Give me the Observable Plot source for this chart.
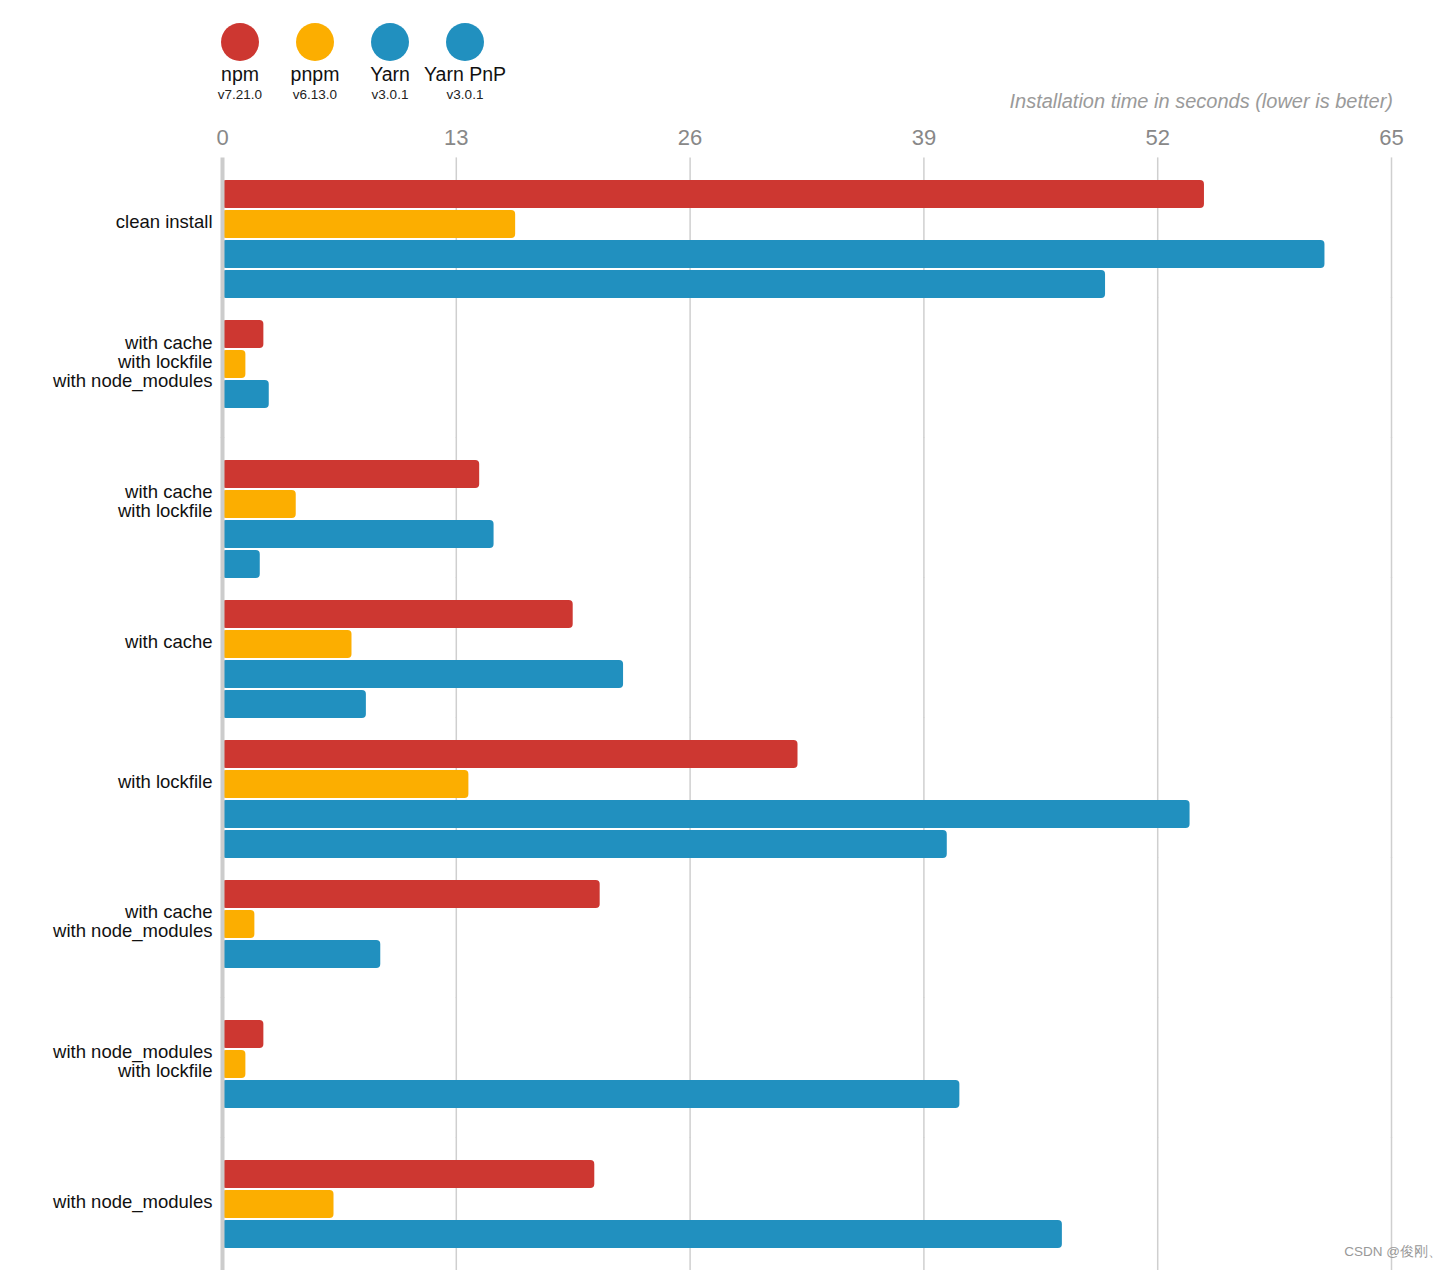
<!DOCTYPE html>
<html>
<head>
<meta charset="utf-8">
<script src="https://cdn.jsdelivr.net/npm/d3@7"></script>
<script src="https://cdn.jsdelivr.net/npm/@observablehq/plot@0.6"></script>
<style>
  html, body { margin: 0; padding: 0; background: #fff; overflow: hidden; }
  #wrap { position: relative; width: 1456px; height: 1270px; overflow: hidden; font-family: "Helvetica Neue", Helvetica, Arial, "Liberation Sans", sans-serif; }
  #legend { position: absolute; left: 0; top: 0; }
  .item { position: absolute; top: 23px; width: 100px; margin-left: -50px; text-align: center; color: #111; }
  .dot { width: 38px; height: 38px; border-radius: 50%; margin: 0 auto; }
  .name { font-size: 19.5px; line-height: 22px; margin-top: 2px; }
  .ver { font-size: 13.5px; line-height: 16px; color: #222; margin-top: 2px; }
  #title { position: absolute; right: 63px; top: 90px; font-size: 20px; font-style: italic; color: #9a9a9a; }
  #credit { position: absolute; right: 14px; top: 1243px; font-size: 13.5px; color: #999; }
  #chart { position: absolute; left: 0; top: 0; }
</style>
</head>
<body>
<div id="wrap">
  <div id="chart"></div>
  <div id="legend"></div>
  <div id="title">Installation time in seconds (lower is better)</div>
  <div id="credit">CSDN @俊刚、</div>
</div>
<script>
// ---- data ----
const groups = [
  "clean install",
  "with cache\nwith lockfile\nwith node_modules",
  "with cache\nwith lockfile",
  "with cache",
  "with lockfile",
  "with cache\nwith node_modules",
  "with node_modules\nwith lockfile",
  "with node_modules"
];
const series = ["npm", "pnpm", "Yarn", "Yarn PnP"];
const versions = ["v7.21.0", "v6.13.0", "v3.0.1", "v3.0.1"];
const colors = ["#cd3731", "#fcae00", "#2190bf", "#2190bf"];
const npmValues     = [54.6, 2.3, 14.3, 19.5, 32.0, 21.0, 2.3, 20.7];
const pnpmValues    = [16.3, 1.3, 4.1, 7.2, 13.7, 1.8, 1.3, 6.2];
const yarnValues    = [61.3, 2.6, 15.1, 22.3, 53.8, 8.8, 41.0, 46.7];
const yarnPnPValues = [49.1, null, 2.1, 8.0, 40.3, null, null, null];
const xTicks = [0, 13, 26, 39, 52, 65];

const seriesValues = [npmValues, pnpmValues, yarnValues, yarnPnPValues];
const table = [];
groups.forEach((g, i) => {
  series.forEach((s, j) => {
    const v = seriesValues[j][i];
    if (v != null) table.push({group: g, series: s, value: v});
  });
});

// ---- legend (HTML) ----
const legendX = [240, 315, 390, 465];
const legend = document.getElementById("legend");
series.forEach((s, j) => {
  const el = document.createElement("div");
  el.className = "item";
  el.style.left = legendX[j] + "px";
  el.innerHTML = `<div class="dot" style="background:${colors[j]}"></div><div class="name">${s}</div><div class="ver">${versions[j]}</div>`;
  legend.appendChild(el);
});

// ---- chart ----
const top0 = 178, step = 140.5, gap = 21.6;
const chart = Plot.plot({
  width: 1456,
  height: 1290,
  marginTop: top0,
  marginBottom: 1290 - (top0 + groups.length * step - gap),
  marginLeft: 222,
  marginRight: 65,
  style: {fontFamily: '"Helvetica Neue", Helvetica, Arial, "Liberation Sans", sans-serif', background: "transparent", overflow: "visible"},
  x: {domain: [0, 65], axis: null},
  y: {domain: series, paddingInner: 0.076, paddingOuter: 0, axis: null},
  fy: {domain: groups, paddingInner: gap / step, paddingOuter: 0, axis: null, label: null},
  color: {domain: series, range: colors},
  marks: [
    Plot.ruleX(xTicks.slice(1), {x: d => d, stroke: "#cfcfcf", strokeWidth: 1.5, insetTop: -gap - 1}),
    Plot.axisX({anchor: "top", ticks: xTicks, tickSize: 0, tickPadding: 36, fontSize: 22, color: "#888", label: null}),
    Plot.barX(table, {x: "value", y: "series", fy: "group", fill: "series", rx: 4}),
    Plot.ruleX([0], {stroke: "#cccccc", strokeWidth: 4, insetTop: -gap - 1}),
    Plot.text(groups, {fy: d => d, y: () => "pnpm", text: d => d, frameAnchor: "left", textAnchor: "end", dx: -10, dy: -3, fontSize: 18.5, fill: "#111", lineHeight: 1.03})
  ]
});
document.getElementById("chart").appendChild(chart);
</script>
</body>
</html>
